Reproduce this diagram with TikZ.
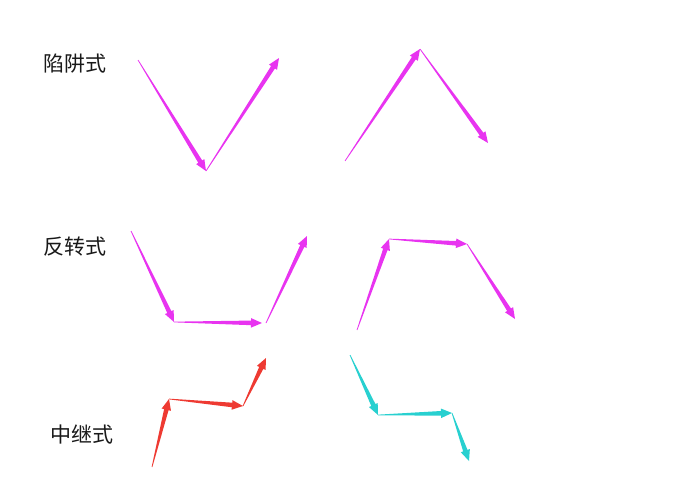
\documentclass[tikz,border=0pt]{standalone}
\usepackage{fontspec}
\usepackage{tikz}
\usepackage{xcolor}
\usetikzlibrary{calc}
\newfontfamily\cjk{Noto Sans CJK SC}
\definecolor{SwingPink}{RGB}{232,52,240}
\definecolor{SwingRed}{RGB}{238,58,50}
\definecolor{SwingCyan}{RGB}{40,208,208}

% tapered arrow from #2 to #3, filled with colour #1
\newcommand{\swing}[3]{%
  \coordinate (#2h#3) at ($(#3)!11pt!(#2)$);
  \fill[#1] ($(#2)!0.35pt!90:(#3)$) -- ($(#2h#3)!2.3pt!90:(#3)$) -- ($(#2h#3)!4.8pt!90:(#3)$)
    -- (#3) -- ($(#2h#3)!4.8pt!-90:(#3)$) -- ($(#2h#3)!2.3pt!-90:(#3)$) -- ($(#2)!0.35pt!-90:(#3)$) -- cycle;}

\begin{document}
\begin{tikzpicture}[x=1pt, y=-1pt, label/.style={font=\cjk\fontsize{21}{24}\selectfont, text=black!90}]
  \useasboundingbox (0,0) rectangle (690,482);

  \node[label] (trap) at (75,64) {陷阱式};
  \node[label] (rev) at (75,247) {反转式};
  \node[label] (relay) at (82,435) {中继式};

  % 陷阱式
  \coordinate (a1) at (138,60);
  \coordinate (a2) at (206,171);
  \coordinate (a3) at (279,58);
  \coordinate (b1) at (345,161);
  \coordinate (b2) at (420,49);
  \coordinate (b3) at (488,143);
  \swing{SwingPink}{a1}{a2}
  \swing{SwingPink}{a2}{a3}
  \swing{SwingPink}{b1}{b2}
  \swing{SwingPink}{b2}{b3}

  % 反转式
  \coordinate (c1) at (131,231);
  \coordinate (c2) at (174,322);
  \coordinate (c3) at (262,323);
  \coordinate (c4) at (266,323);
  \coordinate (c5) at (307,236);
  \coordinate (d1) at (357,330);
  \coordinate (d2) at (389,239);
  \coordinate (d3) at (467,244);
  \coordinate (d4) at (515,319);
  \swing{SwingPink}{c1}{c2}
  \swing{SwingPink}{c2}{c3}
  \swing{SwingPink}{c4}{c5}
  \swing{SwingPink}{d1}{d2}
  \swing{SwingPink}{d2}{d3}
  \swing{SwingPink}{d3}{d4}

  % 中继式
  \coordinate (e1) at (152,467);
  \coordinate (e2) at (169,399);
  \coordinate (e3) at (243,406);
  \coordinate (e4) at (266,358);
  \coordinate (f1) at (350,355);
  \coordinate (f2) at (378,415);
  \coordinate (f3) at (452,413);
  \coordinate (f4) at (469,461);
  \swing{SwingRed}{e1}{e2}
  \swing{SwingRed}{e2}{e3}
  \swing{SwingRed}{e3}{e4}
  \swing{SwingCyan}{f1}{f2}
  \swing{SwingCyan}{f2}{f3}
  \swing{SwingCyan}{f3}{f4}
\end{tikzpicture}
\end{document}
